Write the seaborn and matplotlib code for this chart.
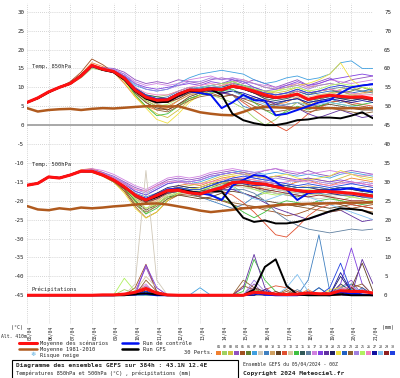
import pandas as pd
import matplotlib
matplotlib.use("Agg")
import matplotlib.pyplot as plt
import seaborn as sns
from matplotlib.lines import Line2D
from matplotlib.patches import Rectangle

# time axis (hours after 05/04/2024 00Z), 12h steps
hours = [0, 12, 24, 36, 48, 60, 72, 84, 96, 108, 120, 132, 144, 156, 168, 180, 192,
         204, 216, 228, 240, 252, 264, 276, 288, 300, 312, 324, 336, 348, 360, 372, 384]
day_ticks = [0, 24, 48, 72, 96, 120, 144, 168, 192, 216, 240, 264, 288, 312, 336, 360, 384]
day_labels = ["05/04", "06/04", "07/04", "08/04", "09/04", "10/04", "11/04", "12/04", "13/04",
              "14/04", "15/04", "16/04", "17/04", "18/04", "19/04", "20/04", "21/04"]

# --- Temp 850 hPa (degC)
mean850 = [6.0, 7.2, 8.8, 10.0, 11.0, 13.0, 15.8, 14.8, 14.2, 12.4, 9.3, 7.4, 6.6, 6.7, 8.2, 9.3, 9.2,
           9.6, 9.4, 10.3, 9.8, 9.0, 8.0, 7.3, 7.6, 8.2, 6.8, 7.5, 7.9, 7.6, 7.4, 7.5, 7.0]
clim850 = [4.5, 3.6, 4.0, 4.2, 4.3, 4.0, 4.3, 4.5, 4.4, 4.6, 4.8, 5.0, 5.0, 4.9, 5.0, 4.2, 3.4,
           3.0, 2.7, 2.6, 3.5, 4.5, 4.8, 4.7, 4.6, 4.5, 4.6, 4.5, 4.5, 4.4, 4.5, 4.4, 4.5]
ctrl850 = [6.0, 7.2, 8.8, 10.0, 11.0, 13.0, 15.6, 14.8, 14.0, 12.5, 9.5, 7.5, 6.8, 6.8, 8.0, 9.0, 8.5,
           8.0, 4.5, 6.0, 8.0, 6.6, 6.5, 2.6, 3.0, 4.0, 5.0, 6.0, 6.6, 8.5, 10.0, 10.5, 10.8]
gfs850 = [6.0, 7.1, 8.7, 10.0, 11.0, 13.2, 15.8, 14.6, 14.0, 12.0, 9.0, 7.0, 6.0, 6.2, 7.8, 9.0, 9.0,
          9.5, 8.0, 3.0, 1.3, 0.5, 0.0, 0.0, 0.5, 1.3, 1.5, 2.0, 2.0, 1.8, 2.5, 3.4, 1.8]
pert850 = [
    [6.1, 7.0, 8.6, 10.2, 11.3, 13.5, 16.5, 15.5, 14.0, 11.0, 7.5, 5.0, 4.0, 4.5, 6.5, 8.0, 9.0, 10.0, 9.5, 10.5, 10.0, 8.5, 7.0, 5.5, 6.0, 7.5, 5.0, 6.5, 8.0, 9.0, 8.0, 8.5, 9.0],
    [6.0, 7.3, 8.9, 9.8, 10.8, 12.5, 15.0, 14.5, 14.5, 13.0, 10.0, 8.0, 7.5, 8.0, 9.0, 10.0, 9.5, 8.0, 7.0, 6.0, 4.5, 2.0, 0.0, 1.5, 4.0, 6.0, 5.5, 7.0, 8.5, 9.0, 8.0, 7.5, 7.0],
    [5.9, 7.1, 8.7, 10.1, 11.2, 13.2, 16.0, 15.0, 14.5, 12.0, 8.0, 5.0, 3.0, 2.0, 4.0, 6.5, 8.0, 9.0, 10.0, 11.0, 10.5, 9.5, 9.0, 8.5, 9.0, 10.0, 9.0, 8.0, 8.5, 9.5, 10.0, 9.0, 8.5],
    [6.0, 7.4, 9.0, 10.2, 11.0, 12.8, 15.5, 15.2, 15.0, 14.0, 12.0, 11.0, 11.5, 11.0, 12.0, 11.5, 11.0, 12.0, 12.5, 12.0, 11.0, 12.0, 11.0, 10.0, 11.0, 12.0, 10.5, 11.5, 12.5, 11.0, 12.0, 12.5, 13.0],
    [6.2, 7.0, 8.5, 10.0, 11.5, 14.0, 17.5, 16.0, 14.0, 12.5, 9.0, 6.5, 5.0, 4.0, 5.5, 7.0, 8.0, 8.5, 7.5, 8.0, 7.0, 6.0, 5.0, 5.5, 6.5, 7.0, 5.5, 5.0, 6.0, 6.5, 5.5, 5.0, 4.5],
    [6.0, 7.2, 8.8, 9.9, 11.0, 13.0, 15.5, 14.5, 14.0, 12.5, 9.5, 7.5, 6.0, 6.5, 8.0, 9.5, 10.0, 10.5, 10.0, 11.0, 9.5, 8.5, 7.5, 7.0, 8.0, 9.0, 8.0, 9.0, 9.5, 8.5, 9.0, 10.0, 9.0],
    [6.1, 7.2, 8.9, 10.1, 11.2, 13.3, 15.8, 15.0, 14.5, 13.0, 10.5, 9.5, 9.0, 9.5, 11.0, 12.5, 13.5, 14.0, 14.5, 14.0, 13.5, 12.0, 11.0, 11.5, 12.5, 13.0, 12.0, 12.5, 13.5, 16.5, 17.0, 15.0, 15.0],
    [6.0, 7.1, 8.7, 9.9, 10.9, 12.9, 15.6, 14.6, 14.0, 12.0, 9.0, 7.0, 6.0, 6.0, 7.5, 8.5, 8.5, 9.0, 9.0, 10.0, 9.5, 8.5, 7.5, 7.0, 7.0, 7.5, 6.5, 7.0, 7.5, 7.0, 7.0, 7.0, 6.5],
    [6.0, 7.3, 8.8, 10.0, 11.1, 13.1, 16.0, 15.0, 14.2, 12.5, 9.5, 7.5, 7.0, 7.5, 9.0, 10.0, 9.5, 10.0, 9.0, 8.0, 5.0, 4.0, 4.5, 5.5, 6.5, 7.0, 6.0, 6.5, 7.0, 6.0, 6.5, 7.0, 6.5],
    [6.1, 7.1, 8.7, 10.0, 11.0, 13.0, 15.7, 14.7, 14.3, 12.3, 9.0, 7.0, 5.5, 5.0, 6.5, 8.0, 8.5, 9.5, 10.5, 11.5, 12.0, 11.0, 10.0, 9.5, 10.0, 11.0, 10.0, 10.5, 11.0, 10.5, 10.0, 10.5, 11.0],
    [5.9, 7.0, 8.6, 9.8, 10.8, 12.8, 15.4, 14.5, 14.0, 12.0, 8.5, 6.0, 4.5, 4.0, 5.5, 7.5, 8.5, 9.0, 8.5, 9.0, 8.0, 7.0, 6.0, 5.0, 5.5, 6.0, 4.5, 5.0, 5.5, 5.0, 4.5, 4.0, 4.0],
    [6.0, 7.2, 8.8, 10.0, 11.0, 13.0, 15.8, 14.8, 14.2, 12.4, 9.5, 7.5, 6.5, 6.0, 7.5, 9.0, 9.5, 9.0, 8.5, 8.0, 6.0, 4.0, 2.0, 0.0, -1.5, 0.5, 3.0, 4.5, 6.0, 6.5, 6.0, 5.5, 5.0],
    [6.0, 7.2, 8.8, 10.0, 11.0, 13.0, 15.9, 14.9, 14.3, 12.6, 9.8, 8.0, 7.0, 7.0, 8.5, 9.5, 9.5, 10.0, 9.5, 10.5, 10.0, 9.5, 8.5, 8.0, 8.0, 8.5, 7.5, 8.0, 8.5, 8.0, 8.0, 8.5, 8.0],
    [6.0, 7.1, 8.8, 10.1, 11.1, 13.1, 15.6, 14.6, 14.0, 12.0, 8.0, 5.0, 2.5, 3.0, 5.0, 7.0, 8.0, 8.5, 9.0, 9.5, 8.0, 6.0, 4.0, 2.5, 3.5, 5.0, 4.0, 5.0, 6.0, 5.5, 5.0, 5.5, 6.0],
    [6.0, 7.2, 8.8, 10.0, 11.0, 13.0, 15.7, 14.8, 14.4, 12.8, 9.8, 8.0, 7.5, 7.0, 8.0, 9.0, 9.0, 9.5, 9.0, 10.0, 9.5, 8.5, 7.0, 6.5, 7.0, 8.0, 6.5, 7.0, 7.5, 7.0, 7.0, 7.5, 7.0],
    [6.0, 7.3, 8.9, 10.0, 11.2, 13.0, 15.6, 14.5, 14.0, 12.0, 9.0, 7.0, 6.5, 6.5, 8.0, 9.0, 9.5, 10.5, 11.0, 11.5, 10.5, 10.0, 9.0, 8.0, 8.5, 9.5, 8.5, 9.0, 9.5, 10.0, 9.5, 9.0, 8.5],
    [6.0, 7.2, 8.8, 10.0, 11.0, 13.2, 16.0, 15.0, 14.5, 13.5, 11.5, 10.5, 11.0, 10.5, 11.0, 12.0, 12.5, 13.0, 12.0, 12.5, 12.0, 11.0, 10.5, 10.0, 10.5, 11.0, 10.0, 11.0, 12.0, 11.5, 11.0, 11.5, 12.0],
    [6.0, 7.1, 8.7, 9.9, 11.0, 13.0, 15.7, 14.7, 14.5, 13.0, 11.0, 10.0, 9.5, 10.0, 10.5, 11.0, 10.5, 11.5, 11.0, 12.0, 11.5, 10.0, 9.0, 9.5, 10.5, 11.5, 10.5, 11.0, 12.0, 12.5, 13.0, 13.5, 13.0],
    [6.0, 7.2, 8.9, 10.0, 11.1, 13.1, 15.9, 14.9, 14.3, 12.5, 9.5, 7.5, 6.8, 7.0, 8.5, 9.0, 9.5, 9.0, 8.5, 8.0, 7.0, 7.5, 6.5, 5.5, 5.0, 4.5, 3.0, 2.0, 3.0, 4.0, 3.0, 2.0, 2.5],
    [6.0, 7.2, 8.8, 10.0, 11.0, 13.0, 15.8, 14.8, 14.0, 12.0, 9.0, 7.0, 6.0, 6.0, 7.5, 8.5, 9.0, 9.5, 9.5, 10.5, 9.5, 8.5, 7.5, 7.0, 7.5, 8.0, 7.0, 7.5, 8.0, 7.0, 6.5, 7.0, 6.5],
    [6.0, 7.2, 8.8, 10.0, 11.0, 13.0, 15.6, 14.6, 14.0, 11.5, 7.5, 4.5, 1.5, 0.5, 3.0, 6.0, 8.0, 9.5, 10.5, 11.0, 10.0, 9.0, 8.5, 9.0, 10.0, 10.5, 11.0, 12.0, 13.5, 16.5, 12.0, 10.0, 9.5],
    [6.0, 7.2, 8.8, 10.0, 11.0, 13.0, 15.8, 14.8, 14.3, 12.6, 9.6, 7.8, 7.0, 7.0, 8.5, 9.5, 10.0, 10.0, 10.0, 11.0, 10.5, 9.5, 8.5, 8.0, 8.5, 9.0, 8.0, 8.5, 9.0, 9.0, 8.5, 9.0, 9.5],
    [6.0, 7.2, 8.8, 10.0, 11.0, 13.0, 15.8, 14.8, 14.0, 12.0, 8.5, 6.0, 4.0, 3.5, 5.0, 6.5, 7.5, 8.0, 7.5, 8.0, 6.5, 5.0, 4.0, 3.5, 4.0, 4.5, 3.5, 4.0, 4.5, 4.0, 3.5, 3.0, 3.5],
    [6.0, 7.2, 8.8, 10.0, 11.0, 13.0, 15.8, 15.0, 14.8, 13.5, 11.0, 9.5, 9.0, 9.5, 10.5, 11.5, 11.5, 12.5, 12.0, 12.5, 11.5, 11.0, 10.0, 9.5, 10.0, 10.5, 9.5, 10.5, 11.0, 10.5, 10.0, 10.5, 11.0],
    [6.0, 7.2, 8.8, 10.0, 11.0, 13.0, 15.7, 14.7, 14.2, 12.2, 9.0, 6.5, 5.0, 5.5, 7.0, 8.5, 9.5, 10.5, 11.0, 11.5, 10.5, 9.5, 9.0, 9.0, 9.5, 10.0, 9.0, 9.5, 10.5, 11.0, 10.5, 10.0, 9.5],
    [6.0, 7.2, 8.8, 10.0, 11.0, 13.0, 15.8, 14.8, 14.2, 12.8, 10.0, 8.5, 8.0, 8.0, 9.0, 10.0, 10.5, 11.0, 10.5, 11.0, 10.0, 9.0, 8.5, 8.0, 8.5, 9.0, 8.5, 9.0, 9.5, 9.0, 8.5, 8.0, 8.0],
    [6.0, 7.2, 8.8, 10.0, 11.0, 13.0, 15.8, 14.8, 14.0, 12.0, 9.0, 7.0, 6.5, 6.5, 8.0, 9.0, 9.0, 9.0, 8.5, 9.0, 8.5, 7.5, 6.5, 6.0, 6.5, 7.0, 6.0, 6.5, 7.0, 6.5, 6.0, 6.5, 6.0],
    [6.0, 7.2, 8.8, 10.0, 11.0, 13.0, 15.8, 14.8, 14.2, 12.4, 9.5, 7.5, 7.0, 7.0, 8.5, 9.5, 10.0, 10.5, 10.0, 9.0, 7.5, 6.5, 5.5, 5.0, 5.5, 6.0, 5.0, 5.5, 6.0, 5.5, 5.0, 4.5, 4.0],
    [6.0, 7.2, 8.8, 10.0, 11.0, 13.0, 15.8, 14.8, 14.2, 12.0, 9.0, 7.0, 6.0, 6.0, 7.0, 8.5, 9.0, 9.5, 9.0, 10.0, 9.5, 8.5, 7.5, 7.0, 7.5, 8.0, 7.0, 7.5, 8.0, 7.5, 7.0, 7.0, 6.5],
    [6.0, 7.2, 8.8, 10.0, 11.0, 13.0, 15.8, 14.8, 14.2, 12.6, 9.8, 8.0, 7.0, 7.0, 8.5, 9.5, 9.5, 10.0, 9.5, 10.5, 10.0, 9.0, 8.5, 8.0, 8.5, 9.5, 8.5, 9.0, 10.0, 10.5, 10.0, 10.5, 11.0],
]

# --- Temp 500 hPa (degC)
mean500 = [-15.9, -15.4, -13.7, -14.0, -13.2, -12.2, -12.2, -13.2, -14.5, -16.3, -18.5, -19.8, -18.6, -17.3, -17.2, -17.9, -18.2,
           -17.3, -16.5, -15.2, -15.0, -15.4, -15.6, -16.3, -16.9, -17.3, -17.6, -17.5, -17.6, -17.8, -18.0, -18.4, -18.8]
clim500 = [-21.4, -22.3, -22.5, -22.0, -22.3, -21.8, -22.0, -21.8, -21.5, -21.3, -21.0, -20.8, -20.7, -21.0, -21.5, -22.0, -22.6,
           -23.0, -22.7, -22.4, -22.0, -21.8, -21.5, -21.2, -21.0, -20.9, -20.8, -20.7, -20.7, -20.6, -20.5, -20.5, -20.4]
ctrl500 = [-15.9, -15.4, -13.7, -14.0, -13.2, -12.2, -12.2, -13.2, -14.5, -16.3, -18.5, -19.5, -18.5, -17.0, -17.0, -17.5, -18.0,
           -18.5, -19.8, -16.0, -14.5, -13.2, -13.5, -15.0, -17.0, -19.8, -18.0, -17.7, -17.2, -17.0, -16.7, -17.2, -17.7]
gfs500 = [-15.9, -15.4, -13.7, -14.0, -13.2, -12.2, -12.2, -13.2, -14.5, -16.5, -18.5, -20.0, -19.0, -17.5, -17.0, -17.5, -18.0,
          -17.5, -17.5, -21.0, -24.5, -25.6, -25.2, -26.0, -26.0, -25.6, -24.8, -23.8, -22.8, -22.0, -22.2, -22.5, -23.5]
pert500 = [
    [-15.9, -15.3, -13.5, -13.8, -13.0, -11.8, -11.5, -12.5, -14.0, -16.0, -19.0, -21.0, -20.0, -17.5, -16.0, -15.5, -16.0, -15.0, -14.0, -13.5, -14.5, -16.0, -17.0, -16.5, -16.0, -15.0, -14.5, -15.5, -16.0, -15.0, -14.0, -14.5, -15.0],
    [-15.9, -15.4, -13.8, -14.1, -13.3, -12.3, -12.0, -13.0, -14.8, -17.0, -21.0, -23.5, -21.0, -18.5, -17.0, -16.5, -17.0, -16.0, -15.0, -16.0, -18.0, -19.0, -18.0, -17.0, -16.5, -17.5, -18.5, -18.0, -19.0, -20.0, -19.0, -18.0, -18.5],
    [-15.9, -15.5, -13.6, -14.0, -13.1, -12.1, -12.3, -13.5, -15.0, -17.5, -20.5, -22.0, -20.5, -18.0, -16.5, -16.0, -15.5, -14.5, -13.5, -13.0, -12.5, -13.5, -14.0, -13.5, -14.0, -15.0, -14.0, -14.5, -15.0, -14.0, -13.0, -13.5, -14.0],
    [-15.8, -15.3, -13.6, -13.8, -13.0, -12.0, -11.8, -12.5, -13.5, -15.0, -16.5, -17.5, -16.0, -14.5, -14.0, -14.5, -14.0, -13.0, -12.5, -12.0, -12.5, -13.0, -12.0, -11.5, -12.5, -13.0, -12.0, -13.0, -13.5, -12.5, -12.0, -12.5, -13.0],
    [-15.9, -15.4, -13.7, -14.0, -13.2, -12.4, -12.5, -13.5, -15.0, -17.5, -21.5, -24.5, -23.0, -20.0, -18.5, -18.0, -19.0, -19.5, -20.0, -21.0, -22.0, -21.5, -22.5, -23.0, -24.0, -23.5, -22.5, -21.0, -20.5, -21.0, -22.0, -21.5, -21.0],
    [-15.9, -15.4, -13.7, -14.0, -13.2, -12.2, -12.2, -13.2, -14.5, -16.5, -19.0, -20.5, -19.0, -17.5, -17.0, -17.5, -17.5, -16.5, -15.5, -15.0, -15.5, -16.5, -17.5, -18.0, -18.5, -19.0, -18.0, -17.5, -17.0, -16.5, -17.0, -17.5, -18.0],
    [-15.9, -15.4, -13.7, -14.0, -13.2, -12.2, -12.0, -12.8, -14.0, -15.5, -17.5, -18.5, -17.0, -15.5, -15.0, -15.5, -15.0, -14.0, -13.0, -12.5, -12.0, -12.5, -13.0, -12.5, -13.0, -13.5, -13.0, -13.5, -14.0, -13.0, -12.5, -13.0, -13.5],
    [-15.9, -15.4, -13.7, -14.0, -13.2, -12.2, -12.2, -13.2, -14.5, -16.3, -19.5, -22.0, -21.0, -19.0, -18.0, -18.0, -18.5, -18.0, -17.0, -16.0, -16.5, -17.0, -17.5, -18.0, -18.5, -18.5, -19.0, -19.5, -19.0, -18.5, -19.0, -19.5, -20.0],
    [-15.9, -15.4, -13.7, -14.0, -13.2, -12.2, -12.2, -13.2, -14.5, -16.0, -18.0, -19.0, -18.0, -17.0, -17.0, -18.0, -19.0, -20.0, -21.0, -22.0, -21.0, -19.0, -17.5, -17.0, -17.5, -18.0, -17.5, -18.0, -18.5, -18.0, -18.5, -19.0, -19.5],
    [-15.9, -15.4, -13.7, -14.0, -13.2, -12.2, -12.2, -13.2, -14.5, -16.5, -19.5, -21.0, -19.5, -17.5, -16.5, -17.0, -17.0, -16.0, -15.5, -14.5, -14.0, -14.5, -15.0, -15.5, -16.0, -16.5, -16.0, -16.5, -17.0, -16.5, -17.0, -16.5, -16.0],
    [-15.9, -15.4, -13.7, -14.0, -13.2, -12.2, -12.2, -13.2, -14.5, -16.8, -20.0, -22.5, -21.0, -19.0, -18.5, -19.0, -19.5, -19.0, -18.0, -17.5, -18.0, -19.0, -20.0, -20.5, -21.0, -21.5, -21.0, -21.5, -22.0, -21.5, -21.0, -21.5, -22.0],
    [-15.9, -15.4, -13.7, -14.0, -13.2, -12.2, -12.2, -13.2, -14.5, -16.3, -18.5, -19.5, -18.5, -17.5, -17.5, -18.0, -18.5, -18.0, -17.5, -18.5, -20.5, -23.0, -26.0, -29.0, -29.6, -27.0, -24.0, -22.0, -21.0, -20.5, -21.0, -21.5, -22.0],
    [-15.9, -15.4, -13.7, -14.0, -13.2, -12.2, -12.2, -13.2, -14.5, -16.3, -19.0, -21.0, -20.0, -18.5, -18.0, -18.0, -18.0, -17.0, -16.5, -15.5, -15.5, -16.0, -16.5, -17.0, -17.5, -18.0, -18.0, -18.5, -18.5, -18.0, -18.5, -19.0, -19.0],
    [-15.9, -15.4, -13.7, -14.0, -13.2, -12.2, -12.2, -13.2, -14.5, -16.5, -20.0, -23.5, -22.0, -19.5, -18.0, -17.5, -18.0, -18.5, -19.5, -21.0, -23.0, -24.5, -23.0, -21.0, -20.0, -20.5, -21.0, -20.0, -19.5, -20.0, -20.5, -21.0, -20.5],
    [-15.9, -15.4, -13.7, -14.0, -13.2, -12.2, -12.2, -13.2, -14.5, -16.3, -18.5, -20.0, -18.5, -17.0, -17.0, -17.5, -17.5, -17.0, -16.0, -15.0, -15.0, -15.5, -15.5, -16.0, -16.5, -17.0, -17.5, -17.0, -17.5, -17.5, -18.0, -18.0, -18.5],
    [-15.9, -15.4, -13.7, -14.0, -13.2, -12.2, -12.2, -13.2, -14.5, -16.3, -18.5, -20.0, -19.0, -18.0, -17.5, -18.0, -18.5, -18.0, -17.5, -17.0, -17.0, -18.0, -20.0, -23.0, -25.0, -26.5, -27.5, -28.0, -28.5, -28.0, -27.5, -27.8, -27.5],
    [-15.9, -15.3, -13.5, -13.8, -13.0, -12.0, -11.5, -12.0, -13.0, -14.5, -16.0, -17.0, -15.5, -14.0, -13.5, -14.0, -13.5, -12.5, -12.0, -11.5, -12.0, -12.5, -12.0, -11.5, -12.0, -12.5, -13.0, -12.5, -12.0, -12.5, -13.0, -13.5, -13.0],
    [-15.9, -15.4, -13.7, -14.0, -13.2, -12.2, -12.0, -12.8, -14.0, -15.5, -17.5, -18.5, -17.0, -15.5, -15.0, -15.0, -14.5, -13.5, -13.0, -12.5, -13.0, -13.5, -14.0, -13.5, -14.0, -14.5, -14.0, -14.5, -15.0, -14.5, -15.0, -15.5, -16.0],
    [-15.9, -15.4, -13.7, -14.0, -13.2, -12.2, -12.2, -13.2, -14.5, -16.3, -18.5, -20.0, -19.0, -17.5, -17.0, -17.5, -18.0, -17.5, -17.0, -17.0, -18.0, -19.0, -20.5, -22.0, -23.0, -24.0, -25.0, -24.0, -23.0, -22.5, -24.0, -25.5, -25.0],
    [-15.9, -15.4, -13.7, -14.0, -13.2, -12.2, -12.2, -13.2, -14.5, -16.3, -18.5, -19.5, -18.0, -16.5, -16.0, -16.5, -16.5, -15.5, -15.0, -14.5, -14.5, -15.0, -15.5, -16.0, -16.0, -16.5, -16.5, -17.0, -17.0, -16.5, -17.0, -17.5, -17.0],
    [-15.9, -15.4, -13.7, -14.0, -13.2, -12.2, -12.5, -13.5, -15.0, -18.0, -22.0, -24.6, -23.0, -20.0, -18.0, -17.0, -16.5, -15.5, -14.5, -13.5, -13.0, -13.5, -14.0, -13.5, -13.0, -14.0, -14.5, -14.0, -13.5, -12.0, -13.0, -14.0, -14.5],
    [-15.9, -15.4, -13.7, -14.0, -13.2, -12.2, -12.2, -13.2, -14.5, -16.3, -18.5, -19.5, -18.5, -17.0, -16.5, -17.0, -17.0, -16.0, -15.0, -14.5, -14.5, -15.0, -15.0, -15.5, -16.0, -16.5, -16.5, -16.5, -17.0, -16.5, -16.5, -17.0, -17.5],
    [-15.9, -15.4, -13.7, -14.0, -13.2, -12.2, -12.4, -13.4, -15.0, -17.0, -21.0, -23.0, -21.5, -19.5, -18.5, -18.5, -19.0, -19.5, -20.0, -20.5, -21.0, -21.5, -22.0, -21.5, -21.0, -21.5, -22.0, -22.5, -23.0, -22.5, -22.0, -22.5, -23.0],
    [-15.9, -15.4, -13.7, -14.0, -13.2, -12.1, -11.9, -12.6, -13.8, -15.2, -17.0, -18.0, -16.5, -15.0, -14.5, -15.0, -14.5, -13.5, -13.0, -12.5, -13.0, -14.0, -14.5, -14.0, -14.5, -15.0, -14.5, -15.0, -15.5, -15.0, -15.5, -15.0, -15.5],
    [-15.9, -15.4, -13.7, -14.0, -13.2, -12.2, -12.2, -13.2, -14.5, -16.5, -19.5, -22.0, -21.0, -19.0, -17.5, -17.0, -17.0, -16.5, -16.0, -15.5, -16.0, -17.0, -18.0, -18.5, -18.0, -17.5, -17.0, -17.5, -18.0, -18.5, -19.0, -19.5, -20.0],
    [-15.9, -15.4, -13.7, -14.0, -13.2, -12.2, -12.0, -12.8, -14.0, -15.5, -17.0, -17.5, -16.0, -15.0, -15.0, -15.5, -15.5, -15.0, -14.5, -14.0, -14.0, -14.5, -15.0, -15.5, -15.0, -14.5, -15.0, -15.5, -16.0, -15.5, -15.0, -15.5, -16.0],
    [-15.9, -15.4, -13.7, -14.0, -13.2, -12.2, -12.2, -13.2, -14.5, -16.3, -18.5, -20.0, -19.0, -18.0, -17.5, -18.0, -18.5, -17.5, -16.5, -15.5, -15.5, -16.0, -16.0, -16.5, -17.0, -17.5, -18.0, -17.5, -18.0, -18.5, -18.5, -19.0, -19.0],
    [-15.9, -15.4, -13.7, -14.0, -13.2, -12.2, -12.2, -13.2, -14.5, -16.3, -18.5, -20.0, -19.5, -18.0, -17.5, -18.0, -18.0, -17.0, -16.0, -16.5, -18.0, -19.5, -20.0, -19.0, -18.0, -18.5, -19.0, -20.0, -21.0, -22.0, -23.0, -24.0, -25.0],
    [-15.9, -15.4, -13.7, -14.0, -13.2, -12.2, -12.2, -13.2, -14.5, -16.3, -19.0, -20.5, -19.5, -18.0, -17.5, -18.0, -18.0, -17.5, -17.0, -16.0, -16.0, -16.5, -17.0, -17.5, -18.0, -18.5, -19.0, -18.5, -19.0, -19.5, -20.0, -20.0, -20.5],
    [-15.9, -15.4, -13.7, -14.0, -13.2, -12.2, -12.2, -13.2, -14.5, -16.3, -18.5, -19.5, -18.5, -17.0, -16.5, -17.0, -17.0, -16.0, -15.0, -14.0, -13.5, -14.0, -14.5, -15.0, -15.5, -16.0, -15.5, -16.0, -16.5, -16.0, -15.5, -16.0, -16.5],
]

# --- precipitation (mm, right axis; 0 mm sits on -45 of the left axis)
meanrr = [0, 0, 0, 0, 0, 0, 0, 0.1, 0.1, 0.3, 0.8, 1.8, 0.6, 0.1, 0, 0, 0,
          0, 0, 0, 0, 0.8, 0.6, 0.3, 0.2, 0.3, 0.6, 0.4, 0.4, 1.2, 1.0, 1.0, 0.6]
ctrlrr = [0, 0, 0, 0, 0, 0, 0, 0, 0, 0.3, 0.6, 0.3, 0, 0, 0, 0, 0,
          0, 0, 0, 0, 0.5, 0.2, 0, 0, 0, 0.5, 0.2, 0, 0.8, 0.4, 0.2, 0]
gfsrr = [0, 0, 0, 0, 0, 0, 0, 0, 0, 0, 0.3, 0.5, 0.2, 0, 0, 0, 0,
         0, 0, 0, 0, 1.5, 7.5, 9.5, 2.5, 0.2, 0, 0, 0, 0.3, 0, 0, 0]
pertrr = [
    [0, 0, 0, 0, 0, 0, 0, 0, 0, 0, 1, 2.5, 0.5, 0, 0, 0, 0, 0, 0, 0, 0, 1, 0.5, 0, 0, 0, 1.5, 0, 0, 2, 1, 0, 0],
    [0, 0, 0, 0, 0, 0, 0, 0, 0, 1.5, 0.5, 1, 0, 0, 0, 0, 0, 0, 0, 0, 0, 2, 0.5, 0, 0, 0, 0, 0, 1, 0, 2, 0, 0],
    [0, 0, 0, 0, 0, 0, 0, 0, 0, 0, 0, 1.5, 0.5, 0, 0, 0, 0, 0, 0, 0, 0, 0, 1, 0, 0, 0.5, 0, 0, 0, 3, 1, 0, 0],
    [0, 0, 0, 0, 0, 0, 0, 0, 0, 0, 1, 7.4, 1, 0, 0, 0, 0, 0, 0, 0, 0, 3, 0, 0, 0, 0, 0, 0, 0, 2, 4, 0, 0],
    [0, 0, 0, 0, 0, 0, 0, 0, 0, 0, 2, 8.2, 1, 0, 0, 0, 0, 0, 0, 0, 2.5, 1.5, 0, 0, 1, 0, 0, 0, 0, 0, 3, 2, 0],
    [0, 0, 0, 0, 0, 0, 0, 0, 0, 0, 0, 1, 0, 0, 0, 0, 0, 0, 0, 0, 0, 1, 0, 0, 0, 0, 0.5, 0, 0, 1.5, 0, 0, 0],
    [0, 0, 0, 0, 0, 0, 0, 0, 0, 0, 0, 0, 0, 0, 0, 0, 2, 0, 0, 0, 0, 0.5, 0, 0, 0, 1, 0, 0, 0, 2, 3, 0, 0],
    [0, 0, 0, 0, 0, 0, 0, 0, 0, 0, 3, 33, 4, 0, 0, 0, 0, 0, 0, 0, 0, 1, 0, 0, 0, 0, 0, 0, 0, 0, 1.5, 0, 0],
    [0, 0, 0, 0, 0, 0, 0, 0, 0, 0, 0, 1, 0, 0, 0, 0, 0, 0, 0, 0, 0, 1.5, 0, 0, 0, 0, 4, 16, 1, 0, 2, 0, 0],
    [0, 0, 0, 0, 0, 0, 0, 0, 0, 0, 0, 2, 0, 0, 0, 0, 0, 0, 0, 0, 0, 1, 0, 0, 0, 0, 0, 0, 0, 2.5, 0, 1.5, 0],
    [0, 0, 0, 0, 0, 0, 0, 0, 0, 0, 0, 1.5, 0, 0, 0, 0, 0, 0, 0, 0, 0, 2, 1, 0, 0, 0, 0, 0, 0, 0, 2, 8.5, 1],
    [0, 0, 0, 0, 0, 0, 0, 0, 0, 0, 0, 1, 0, 0, 0, 0, 0, 0, 0, 0, 0, 0, 1.5, 2.5, 2, 1, 0, 0, 0, 0, 1, 0, 0],
    [0, 0, 0, 0, 0, 0, 0, 0, 0, 0, 1, 5, 2, 0, 0, 0, 0, 0, 0, 0, 0, 1, 0, 0, 0, 0, 0, 0, 0, 1, 0, 0, 0],
    [0, 0, 0, 0, 0, 0, 0, 0, 0, 0.5, 0, 1, 0, 0, 0, 0, 0, 0, 0, 0, 1, 9.5, 4, 1, 0, 0, 0, 0, 0, 0, 1.5, 0, 0],
    [0, 0, 0, 0, 0, 0, 0, 0, 0, 0, 0, 1, 0, 0, 0, 0, 0, 0, 0, 0, 0, 1, 0, 0, 0, 0, 0, 0, 0, 3, 1, 0, 0],
    [0, 0, 0, 0, 0, 0, 0, 0, 0, 0, 0, 0.5, 0, 0, 0, 0, 0, 0, 0, 0, 0, 0, 1, 0, 0, 1.5, 0, 2, 0, 0, 1, 0, 0],
    [0, 0, 0, 0, 0, 0, 0, 0, 0, 0, 1, 3, 0, 0, 0, 0, 0, 0, 0, 0, 0, 2, 0, 0, 0, 0, 0, 0, 0, 1, 2.5, 0, 0],
    [0, 0, 0, 0, 0, 0, 0, 0, 0, 0, 0, 8, 2, 0, 0, 0, 0, 0, 0, 0, 0, 1, 0, 0, 0, 0, 0, 0, 0, 3, 12.5, 3, 0],
    [0, 0, 0, 0, 0, 0, 0, 0, 0, 0, 0.5, 2, 0, 0, 0, 0, 0, 0, 0, 0, 2, 10.8, 2, 0, 0, 0, 0, 0, 0, 0, 0, 9.5, 3],
    [0, 0, 0, 0, 0, 0, 0, 0, 0, 0, 0, 1, 0, 0, 0, 0, 0, 0, 0, 0, 0, 0, 1, 0, 0, 0, 1, 0, 0, 5, 1, 0, 0],
    [0, 0, 0, 0, 0, 0, 0, 0, 0, 0, 1, 1.5, 0, 0, 0, 0, 0, 0, 0, 0, 0, 0.5, 0, 0, 0, 0, 0, 0, 1.5, 2, 0, 0, 0],
    [0, 0, 0, 0, 0, 0, 0, 0, 0, 0, 0, 1, 0, 0, 0, 0, 0, 0, 0, 0, 0, 1, 0, 0, 0, 0, 0, 2, 0, 1.5, 0, 2, 0],
    [0, 0, 0, 0, 0, 0, 0, 0, 0, 0, 0, 4, 1, 0, 0, 0, 0, 0, 0, 0, 4, 2, 0, 0, 1.5, 0, 0, 0, 0, 0, 2, 3, 0],
    [0, 0, 0, 0, 0, 0, 0, 0, 0, 0, 0, 2.5, 0, 0, 0, 0, 0, 0, 0, 0, 0, 4, 1, 0, 0, 0, 0, 0, 0, 2, 0, 1.5, 0],
    [0, 0, 0, 0, 0, 0, 0, 0, 0, 4.5, 1, 0, 0, 0, 0, 0, 0, 0, 0, 0, 0, 1.5, 0, 0, 0, 0, 0, 0, 0, 0, 1, 0, 0],
    [0, 0, 0, 0, 0, 0, 0, 0, 0, 0, 0, 2, 0, 0, 0, 0, 0, 0, 0, 0, 0, 1, 0, 0, 0, 0, 0, 0, 0, 1.5, 2.5, 0, 0],
    [0, 0, 0, 0, 0, 0, 0, 0, 0, 0, 0, 1, 0, 0, 0, 0, 0, 0, 0, 0, 0, 0, 1.5, 0, 0, 0, 0, 0, 0, 6, 1, 0, 0],
    [0, 0, 0, 0, 0, 0, 0, 0, 0, 0, 0, 0.5, 0, 0, 0, 0, 0, 0, 0, 0, 0, 1, 0, 0, 2, 5.5, 1, 0, 0, 0, 1, 0, 0],
    [0, 0, 0, 0, 0, 0, 0, 0, 0, 0, 0, 1.5, 0, 0, 0, 0, 0, 0, 0, 0, 0, 1, 0, 1, 0, 0, 0, 0, 0, 0, 2, 0, 0],
    [0, 0, 0, 0, 0, 0, 0, 0, 0, 0, 0, 1, 0, 0, 0, 0, 0, 0, 0, 0, 0, 1, 0, 0, 0, 0, 0, 0, 2, 8.5, 1, 0, 0],
]

pert_names = ["01", "02", "03", "04", "05", "06", "07", "08", "09", "10", "11", "12", "13", "14", "15",
              "16", "17", "18", "19", "20", "21", "22", "23", "24", "25", "26", "27", "28", "29", "30"]
pert_colors = ["#f08030", "#a0d060", "#d0c040", "#9050c0", "#a05020", "#608030", "#40a0e0", "#d0c8b8",
               "#4080c0", "#d0a060", "#604020", "#e05030", "#d8c8a0", "#40c040", "#305858", "#6080a0",
               "#d080e0", "#8040e0", "#6030a0", "#202060", "#f0e040", "#2060c0", "#906030", "#a080e0",
               "#b0f060", "#f080c0", "#1010a0", "#80c0f0", "#902020", "#2040e0"]

RR0 = -45  # where 0 mm sits on the temperature scale

sns.set_style("white")
plt.rcParams["font.family"] = ["DejaVu Sans Mono", "DejaVu Sans"]

fig = plt.figure(figsize=(4, 3.78), dpi=100)
ax = fig.add_axes([27 / 400, 1 - 324 / 378, 346 / 400, 321 / 378])

rows = []
for name, t85, t50, rr in zip(pert_names, pert850, pert500, pertrr):
    assert len(t85) == len(hours) and len(t50) == len(hours) and len(rr) == len(hours), name
    for h, a, b, c in zip(hours, t85, t50, rr):
        rows.append((name, h, a, b, RR0 + c))
df = pd.DataFrame(rows, columns=["member", "h", "t850", "t500", "rr"])
pal = dict(zip(pert_names, pert_colors))

for col in ["t850", "t500", "rr"]:
    sns.lineplot(data=df, x="h", y=col, hue="member", palette=pal, legend=False,
                 linewidth=0.6, estimator=None, ax=ax, zorder=3)

main = pd.DataFrame({"h": hours,
                     "mean850": mean850, "clim850": clim850, "ctrl850": ctrl850, "gfs850": gfs850,
                     "mean500": mean500, "clim500": clim500, "ctrl500": ctrl500, "gfs500": gfs500,
                     "meanrr": [RR0 + v for v in meanrr], "ctrlrr": [RR0 + v for v in ctrlrr],
                     "gfsrr": [RR0 + v for v in gfsrr]})
for lev in ["850", "500"]:
    sns.lineplot(data=main, x="h", y="clim" + lev, color="#b05a1e", linewidth=1.8, ax=ax, zorder=4)
for lev in ["850", "500", "rr"]:
    sns.lineplot(data=main, x="h", y="ctrl" + lev, color="#0010f0", linewidth=1.4, ax=ax, zorder=5)
    sns.lineplot(data=main, x="h", y="gfs" + lev, color="black", linewidth=1.4, ax=ax, zorder=5)
    sns.lineplot(data=main, x="h", y="mean" + lev, color="#ff1010", linewidth=2.2, ax=ax, zorder=6)

ax.axhline(0, color="#a8a8a8", lw=1.4, zorder=1)
ax.axhline(-45, color="#a8a8a8", lw=1.4, zorder=1)

ax.set_xlim(0, 384)
ax.set_ylim(-52.6, 32.3)
ax.set_xticks(day_ticks)
ax.set_xticklabels(day_labels, rotation=90, fontsize=3.4, ha="left", va="top")
ax.set_yticks(list(range(-45, 31, 5)))
ax.set_yticklabels([str(v) for v in range(-45, 31, 5)], fontsize=4.2)
ax.tick_params(length=0, pad=2)
ax.tick_params(axis="x", pad=1)
ax.grid(True, color="#c8c8c8", linestyle=(0, (1, 1.5)), linewidth=0.6)
ax.set_axisbelow(True)
ax.set_xlabel("")
ax.set_ylabel("")
for s in ax.spines.values():
    s.set_visible(False)

ax2 = ax.twinx()
ax2.set_ylim(-52.6 + 45, 32.3 + 45)
ax2.set_yticks(list(range(0, 76, 5)))
ax2.set_yticklabels([str(v) for v in range(0, 76, 5)], fontsize=4.2)
ax2.tick_params(length=0, pad=8)
for s in ax2.spines.values():
    s.set_visible(False)

def px(x, y):
    return x / 400, 1 - y / 378

ax.text(5.5, 15.6, "Temp. 850hPa", fontsize=3.9, va="center", zorder=7)
ax.text(5.5, -10.5, "Temp. 500hPa", fontsize=3.9, va="center", zorder=7)
ax.text(5.5, -43.3, "Précipitations", fontsize=3.9, va="center", zorder=7)

fig.text(*px(11, 327), "(°C)", fontsize=3.6, va="center")
fig.text(*px(1, 336), "Alt. 410m", fontsize=3.4, va="center")
fig.text(*px(382, 327), "(mm)", fontsize=3.6, va="center")

# legend
fig.add_artist(Line2D([19 / 400, 37 / 400], [1 - 343 / 378] * 2, color="#ff1010", lw=2.2))
fig.add_artist(Line2D([19 / 400, 37 / 400], [1 - 349 / 378] * 2, color="#b05a1e", lw=1.8))
fig.add_artist(Line2D([122 / 400, 138 / 400], [1 - 343 / 378] * 2, color="#0010f0", lw=1.8))
fig.add_artist(Line2D([122 / 400, 138 / 400], [1 - 349 / 378] * 2, color="black", lw=1.8))
fig.text(*px(40, 343.5), "Moyenne des scénarios", fontsize=3.9, va="center")
fig.text(*px(40, 349.5), "Moyenne 1981-2010", fontsize=3.9, va="center")
fig.text(*px(30, 355), "\u2744", fontsize=4.5, va="center", color="#60b0e0", family="DejaVu Sans")
fig.text(*px(40, 355.5), "Risque neige", fontsize=3.9, va="center")
fig.text(*px(143, 343.5), "Run de contrôle", fontsize=3.9, va="center")
fig.text(*px(143, 349.5), "Run GFS", fontsize=3.9, va="center")
fig.text(*px(184, 352.5), "30 Perts.", fontsize=3.9, va="center")
for k, (name, c) in enumerate(zip(pert_names, pert_colors)):
    x0 = 216 + k * 6
    fig.text(*px(x0 + 2.7, 347), name, fontsize=2.4, ha="center", va="center")
    fig.add_artist(Rectangle(px(x0, 355), 5 / 400, 4 / 378, transform=fig.transFigure,
                             facecolor=c, edgecolor="none"))

fig.add_artist(Rectangle(px(12, 380), 226 / 400, 20 / 378, transform=fig.transFigure,
                         fill=False, edgecolor="black", lw=0.8))
fig.text(*px(16, 366), "Diagramme des ensembles GEFS sur 384h : 43.1N 12.4E",
         fontsize=4.4, fontweight="bold", va="center")
fig.text(*px(16, 373.5), "Températures 850hPa et 500hPa (°C) , précipitations (mm)",
         fontsize=3.8, va="center")
fig.text(*px(243, 364), "Ensemble GEFS du 05/04/2024 - 00Z", fontsize=3.4, va="center")
fig.text(*px(243, 373.5), "Copyright 2024 Meteociel.fr", fontsize=4.5, fontweight="bold", va="center")

fig.savefig("out.png", dpi=100)
